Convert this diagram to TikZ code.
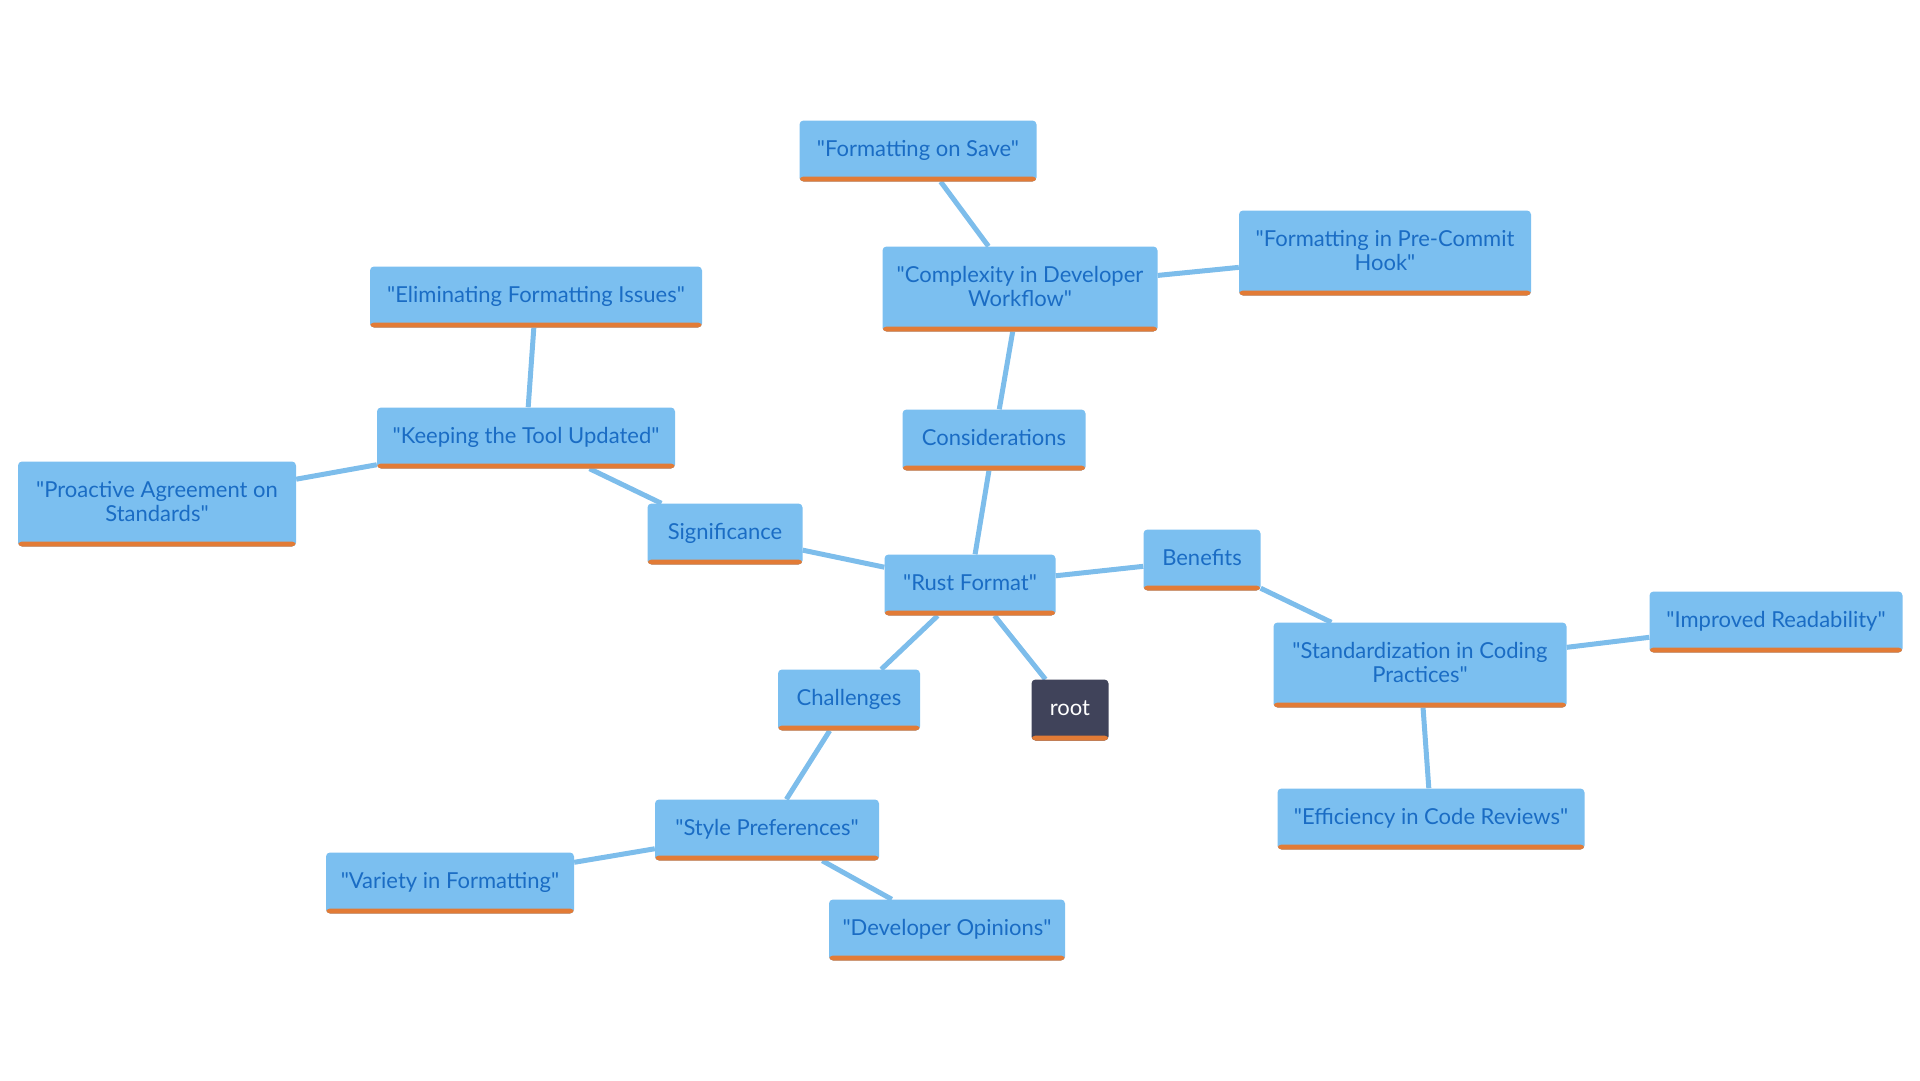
\documentclass[tikz,border=0pt]{standalone}
\usepackage{fontspec}
\setmainfont{Lato}[Ligatures=TeXOff]
\usetikzlibrary{backgrounds}

\definecolor{boxblue}{HTML}{7BBFF0}
\definecolor{linkblue}{HTML}{7DBDEB}
\definecolor{textblue}{HTML}{1A6CC4}
\definecolor{barorange}{HTML}{E27B36}
\definecolor{rootgrey}{HTML}{40435A}

\tikzset{
  idea/.style={rectangle, rounded corners=4pt, fill=boxblue, text=textblue,
    align=center, inner sep=0pt, minimum height=61pt,
    text height=16pt, text depth=6pt,
    font=\fontsize{22}{24}\selectfont,
    path picture={\fill[barorange] (path picture bounding box.south west)
      rectangle ([yshift=5pt]path picture bounding box.south east);}},
  twoline/.style={minimum height=85pt, text height=40pt},
  rootbox/.style={idea, fill=rootgrey, text=white},
  link/.style={draw=linkblue, line width=5pt},
}

\begin{document}
\begin{tikzpicture}[x=1pt,y=-1pt]
  \useasboundingbox (0,0) rectangle (1920,1080);

  % centre
  \node[idea, minimum width=171pt] (rust) at (970,585) {"Rust Format"};
  \node[rootbox, minimum width=77pt] (root) at (1070,710) {root};

  % considerations
  \node[idea, minimum width=183pt] (cons) at (994,440) {Considerations};
  \node[idea, twoline, minimum width=275pt] (complex) at (1020,289) {"Complexity in Developer\\Workflow"};
  \node[idea, minimum width=237pt] (save) at (918,151) {"Formatting on Save"};
  \node[idea, twoline, minimum width=292pt] (hook) at (1385,253) {"Formatting in Pre-Commit\\Hook"};

  % significance
  \node[idea, minimum width=155pt] (signif) at (725,534) {Significance};
  \node[idea, minimum width=298pt] (keep) at (526,438) {"Keeping the Tool Updated"};
  \node[idea, minimum width=332pt] (elim) at (536,297) {"Eliminating Formatting Issues"};
  \node[idea, twoline, minimum width=278pt] (proact) at (157,504) {"Proactive Agreement on\\Standards"};

  % benefits
  \node[idea, minimum width=117pt] (benef) at (1202,560) {Benefits};
  \node[idea, twoline, minimum width=293pt] (stand) at (1420,665) {"Standardization in Coding\\Practices"};
  \node[idea, minimum width=253pt] (read) at (1776,622) {"Improved Readability"};
  \node[idea, minimum width=307pt] (review) at (1431,819) {"Efficiency in Code Reviews"};

  % challenges
  \node[idea, minimum width=142pt] (chall) at (849,700) {Challenges};
  \node[idea, minimum width=224pt] (style) at (767,830) {"Style Preferences"};
  \node[idea, minimum width=248pt] (variety) at (450,883) {"Variety in Formatting"};
  \node[idea, minimum width=236pt] (opinion) at (947,930) {"Developer Opinions"};

  \begin{scope}[on background layer]
    \draw[link] (rust) -- (root);
    \draw[link] (rust) -- (cons);
    \draw[link] (rust) -- (signif);
    \draw[link] (rust) -- (benef);
    \draw[link] (rust) -- (chall);
    \draw[link] (cons) -- (complex);
    \draw[link] (complex) -- (save);
    \draw[link] (complex) -- (hook);
    \draw[link] (signif) -- (keep);
    \draw[link] (keep) -- (elim);
    \draw[link] (keep) -- (proact);
    \draw[link] (benef) -- (stand);
    \draw[link] (stand) -- (read);
    \draw[link] (stand) -- (review);
    \draw[link] (chall) -- (style);
    \draw[link] (style) -- (variety);
    \draw[link] (style) -- (opinion);
  \end{scope}
\end{tikzpicture}
\end{document}
